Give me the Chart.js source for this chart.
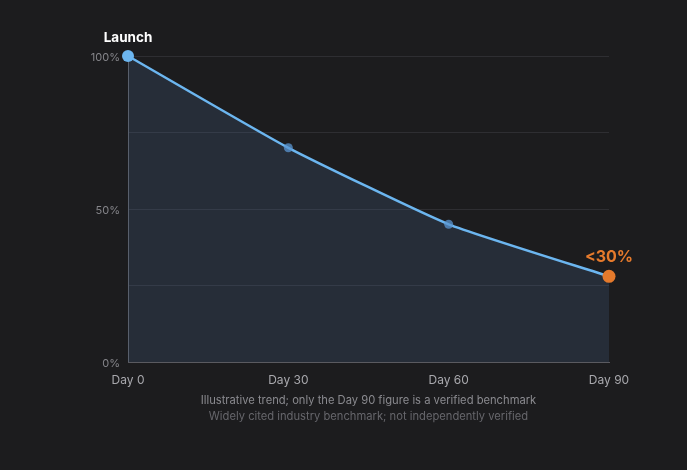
<!DOCTYPE html>
<html lang="en">
<head>
<meta charset="UTF-8">
<title>Retention trend</title>
<script src="https://cdn.jsdelivr.net/npm/chart.js"></script>
<style>
  html,body{margin:0;padding:0;background:#1c1c1e;}
  body{font-family:Inter, "Noto Sans", sans-serif;width:687px;height:470px;position:relative;overflow:hidden;}
  #wrap{position:absolute;left:0;top:0;width:687px;height:470px;}
  .note{position:absolute;left:128px;width:481px;text-align:center;font-size:11.2px;white-space:nowrap;}
  #note1{top:393px;color:#8a8a8f;}
  #note2{top:409px;color:#66666b;}
</style>
</head>
<body>
<div id="wrap"><canvas id="c" width="687" height="470"></canvas></div>
<div class="note" id="note1">Illustrative trend; only the Day 90 figure is a verified benchmark</div>
<div class="note" id="note2">Widely cited industry benchmark; not independently verified</div>

<script>
// data
const days = ['Day 0', 'Day 30', 'Day 60', 'Day 90'];
const retention = [100, 70, 45, 28];
const yLabels = {0: '0%', 50: '50%', 100: '100%'};
const callouts = [
  {index: 0, text: 'Launch', color: '#ffffff', size: 13.5, dy: -18},
  {index: 3, text: '<30%', color: '#e57a2c', size: 16, dy: -19}
];

const blue = '#6cb6f0';
const orange = '#e57a2c';

// text labels above points
const calloutPlugin = {
  id: 'callouts',
  afterDatasetsDraw(chart){
    const ctx = chart.ctx;
    const meta = chart.getDatasetMeta(0);
    ctx.save();
    ctx.textAlign = 'center';
    ctx.textBaseline = 'middle';
    callouts.forEach(c => {
      const p = meta.data[c.index];
      ctx.font = `bold ${c.size}px Inter, "Noto Sans", sans-serif`;
      ctx.fillStyle = c.color;
      ctx.fillText(c.text, p.x, p.y + c.dy);
    });
    ctx.restore();
  }
};

new Chart(document.getElementById('c'), {
  type: 'line',
  data: {
    labels: days,
    datasets: [{
      data: retention,
      clip: false,
      borderColor: blue,
      borderWidth: 2.5,
      tension: 0.15,
      fill: 'origin',
      backgroundColor: 'rgba(78,113,160,0.2)',
      pointRadius: [6, 4.5, 4.5, 6.5],
      pointHoverRadius: [6, 4.5, 4.5, 6.5],
      pointBorderWidth: 0,
      pointBackgroundColor: [blue, 'rgba(90,150,210,0.75)', 'rgba(90,150,210,0.75)', orange]
    }]
  },
  options: {
    responsive: false,
    animation: false,
    layout: {padding: {left: 0, right: 78, top: 56, bottom: 78}},
    plugins: {legend: {display: false}, tooltip: {enabled: false}},
    scales: {
      x: {
        offset: false,
        grid: {display: false, drawTicks: false},
        border: {display: true, color: '#5a5a60', width: 1},
        ticks: {color: '#a8a8ad', padding: 11, font: {family: 'Inter', size: 12}, maxRotation: 0},
        afterFit(s){ s.height = 30; }
      },
      y: {
        min: 0, max: 100,
        grid: {color: '#2e2e32', drawTicks: false, lineWidth: 1},
        border: {display: true, color: '#5a5a60', width: 1},
        ticks: {
          stepSize: 25,
          color: '#85858a',
          padding: 8,
          labelOffset: 2,
          font: {family: 'Inter', size: 11},
          callback: v => yLabels[v] !== undefined ? yLabels[v] : ''
        },
        afterFit(s){ s.width = 128; }
      }
    }
  },
  plugins: [calloutPlugin]
});
</script>
</body>
</html>
